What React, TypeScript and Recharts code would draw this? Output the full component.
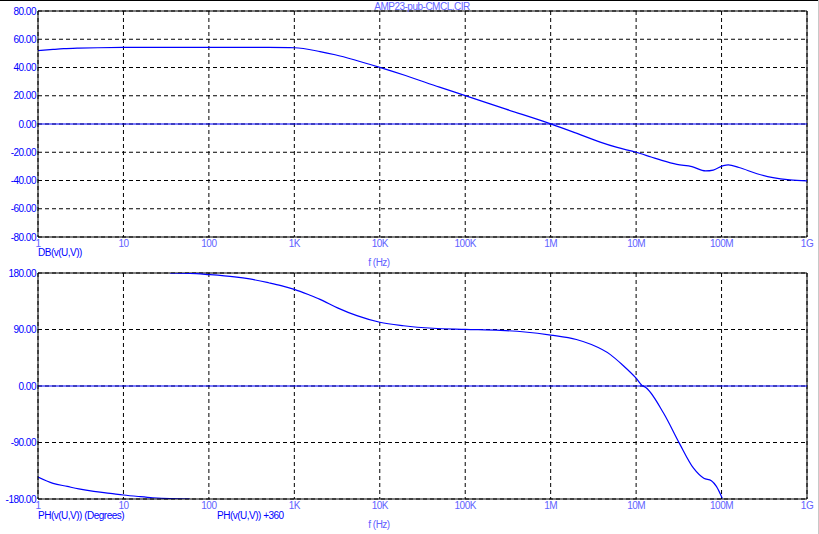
import React from 'react';
import { LineChart, Line, XAxis, YAxis, CartesianGrid, ReferenceLine } from 'recharts';

// Frequency ticks (Hz) and their labels
const freqTicks = [1, 10, 100, 1e3, 1e4, 1e5, 1e6, 1e7, 1e8, 1e9];
const freqTickLabels = ['1', '10', '100', '1K', '10K', '100K', '1M', '10M', '100M', '1G'];

// Magnitude trace DB(v(U,V))
const dbFreq = [1, 1.5, 2, 3, 5, 10, 100, 500, 1000, 2000, 3000, 5000, 1e4, 2e4, 5e4, 1e5, 3e5, 1e6, 2e6, 3.8e6, 6e6, 1e7, 1.5e7, 2e7, 3e7, 4.5e7, 6.5e7, 8e7, 1.05e8, 1.2e8, 1.6e8, 2.6e8, 4e8, 6.3e8, 1e9];
const dbValue = [52.0, 52.8, 53.3, 53.7, 54.0, 54.2, 54.3, 54.2, 54.0, 51.3, 49.0, 45.5, 40.1, 34.3, 26.1, 20.1, 10.5, 0.1, -6.5, -12.8, -16.6, -20.0, -23.4, -25.8, -28.6, -30.2, -33.2, -32.6, -29.5, -29.0, -30.8, -35.2, -38.0, -39.6, -40.3];
const dbTicks = [-80, -60, -40, -20, 0, 20, 40, 60, 80];
const dbTickLabels = ['-80.00', '-60.00', '-40.00', '-20.00', '0.00', '20.00', '40.00', '60.00', '80.00'];

// Phase trace PH(v(U,V)) (Degrees)
const phFreq = [1, 1.5, 2.2, 3, 4.5, 7, 10, 15, 22, 35, 60];
const phValue = [-145, -155, -160, -164, -168, -171, -173.6, -176, -178, -179.5, -180];

// Phase trace PH(v(U,V)) +360
const ph360Freq = [35, 60, 100, 200, 300, 500, 700, 1000, 1500, 2000, 3200, 5400, 1e4, 1.9e4, 4.2e4, 1e5, 2.6e5, 5e5, 1e6, 2e6, 3e6, 5e6, 7e6, 1e7, 1.2e7, 1.25e7, 2.1e7, 3.2e7, 4.7e7, 6.2e7, 7.6e7, 8.7e7, 1.02e8];
const ph360Value = [180, 179.5, 177.5, 173.8, 170.5, 164.5, 160, 154, 145, 138, 124.5, 112, 101.5, 96, 92, 90.3, 88.7, 86, 81, 74, 66, 50, 33, 12.5, 0, -1, -43.5, -91, -131, -147, -151, -160, -179];
const phTicks = [-180, -90, 0, 90, 180];
const phTickLabels = ['-180.00', '-90.00', '0.00', '90.00', '180.00'];

const dbData = dbFreq.map((f, i) => ({ f, v: dbValue[i] }));
const phData = phFreq.map((f, i) => ({ f, v: phValue[i] }));
const ph360Data = ph360Freq.map((f, i) => ({ f, v: ph360Value[i] }));

const BLUE = '#0000ff';
const LIGHT = '#6262ff';
const FONT = "'Liberation Sans', Arial, sans-serif";

const xTickFmt = (v: number) => {
  const i = freqTicks.findIndex((t) => Math.abs(Math.log10(t) - Math.log10(v)) < 1e-6);
  return i >= 0 ? freqTickLabels[i] : '';
};

const makeYFmt = (ticks: number[], labels: string[]) => (v: number) => {
  const i = ticks.indexOf(v);
  return i >= 0 ? labels[i] : '';
};

const W = 819;
const H = 260;
const margin = { top: 11, right: 12, bottom: 0, left: 0 };

function Panel(props: { series: { data: { f: number; v: number }[] }[]; yTicks: number[]; yLabels: string[] }) {
  const { series, yTicks, yLabels } = props;
  const yMin = yTicks[0];
  const yMax = yTicks[yTicks.length - 1];
  return (
    <LineChart width={W} height={H} margin={margin}>
      <CartesianGrid stroke="#000" strokeDasharray="4 3" strokeWidth={1} />
      <XAxis
        dataKey="f"
        type="number"
        scale="log"
        domain={[1, 1e9]}
        ticks={freqTicks}
        tickFormatter={xTickFmt}
        allowDataOverflow
        height={23}
        tickLine={false}
        tickSize={0}
        tickMargin={3}
        axisLine={{ stroke: '#000', strokeWidth: 1 }}
        tick={{ fill: LIGHT, fontSize: 10, fontFamily: FONT }}
        interval={0}
      />
      <YAxis
        type="number"
        domain={[yMin, yMax]}
        ticks={yTicks}
        tickFormatter={makeYFmt(yTicks, yLabels)}
        allowDataOverflow
        width={38}
        tickLine={false}
        tickSize={0}
        tickMargin={2}
        axisLine={{ stroke: '#000', strokeWidth: 1 }}
        tick={{ fill: BLUE, fontSize: 10, fontFamily: FONT }}
        interval={0}
      />
      <ReferenceLine y={yMax} stroke="#000" strokeWidth={1} />
      <ReferenceLine x={1e9} stroke="#000" strokeWidth={1} />
      <ReferenceLine y={0} stroke={BLUE} strokeWidth={1.2} />
      {series.map((s, i) => (
        <Line
          key={i}
          data={s.data}
          dataKey="v"
          type="monotone"
          stroke={BLUE}
          strokeWidth={1.2}
          dot={false}
          activeDot={false}
          isAnimationActive={false}
        />
      ))}
    </LineChart>
  );
}

const label = (text: string, x: number, y: number, color: string, anchor: 'left' | 'center' = 'left') => (
  <div
    style={{
      position: 'absolute',
      left: anchor === 'left' ? x : x - 100,
      width: anchor === 'left' ? undefined : 200,
      textAlign: anchor === 'left' ? 'left' : 'center',
      top: y - 6,
      height: 12,
      lineHeight: '12px',
      fontSize: 10,
      color,
      fontFamily: FONT,
      whiteSpace: 'nowrap',
    }}
  >
    {text}
  </div>
);

export default function App() {
  return (
    <div
      style={{
        position: 'absolute',
        left: 0,
        top: 0,
        width: W,
        height: 534,
        background: '#fff',
        overflow: 'hidden',
        letterSpacing: '-0.5px',
        fontFamily: FONT,
      }}
    >
      <div style={{ position: 'absolute', left: 0, top: 0, width: W, height: 1, background: '#000' }} />
      <div style={{ position: 'absolute', left: 818, top: 0, width: 1, height: 534, background: '#c8c8c8' }} />
      <div style={{ position: 'absolute', left: 0, top: 0 }}>
        <Panel series={[{ data: dbData }]} yTicks={dbTicks} yLabels={dbTickLabels} />
      </div>
      <div style={{ position: 'absolute', left: 0, top: 262 }}>
        <Panel series={[{ data: phData }, { data: ph360Data }]} yTicks={phTicks} yLabels={phTickLabels} />
      </div>
      {label('AMP23-pub-CMCL.CIR', 422, 7, LIGHT, 'center')}
      {label('DB(v(U,V))', 38, 253, BLUE)}
      {label('f (Hz)', 379, 263, LIGHT, 'center')}
      {label('PH(v(U,V)) (Degrees)', 38, 516, BLUE)}
      {label('PH(v(U,V)) +360', 217, 516, BLUE)}
      {label('f (Hz)', 379, 525, LIGHT, 'center')}
    </div>
  );
}
